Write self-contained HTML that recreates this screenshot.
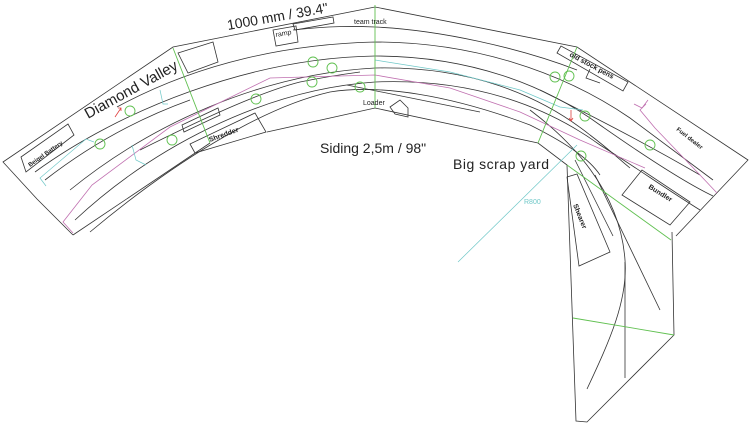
<!DOCTYPE html>
<html><head><meta charset="utf-8"><style>
html,body{margin:0;padding:0;background:#fff;width:750px;height:424px;overflow:hidden}
svg{display:block}
text{font-family:"Liberation Sans",sans-serif}
</style></head><body>
<svg width="750" height="424" viewBox="0 0 750 424" xmlns="http://www.w3.org/2000/svg">
<g fill="none" stroke="#333" stroke-width="0.8">
<polyline points="73,235 37,199 3,162 173,47 375,7 577,47 748,160 676,236"/>
<polyline points="73,235 210,143"/>
<polyline points="267,132 375,108 538,143 567,165 576,421 587,422 674,335 672,232"/>
<polygon points="178,53 213,42 218,62 188,73"/>
<polygon points="21,157 68,124 74,135 26,172"/>
<polygon points="273,30 296,26 298,42 276,46"/>
<polygon points="293,24 333,17 334,23 295,30"/>
<polygon points="190,144 255,113 266,132 195,153"/>
<polygon points="182,125 218,108 220,115 184,132"/>
<polygon points="390,107 400,100 408,108 408,117 395,114"/>
<polygon points="557,53 561,46 628,82 623,91"/>
<polyline points="590,69 586,78 600,83"/>
<polygon points="622,195 642,170 690,202 670,225"/>
<polygon points="567,177 577,174 610,252 579,266"/>
<path d="M117,107 C200,62 290,44 375,42 C470,42 560,70 630,118 C670,148 700,170 713,180"/>
<path d="M293,30 C330,26 352,26 375,27 C440,30 520,48 577,70"/>
<path d="M35,172 C120,110 250,58 375,56 C470,56 545,85 600,125 C650,160 690,185 713,196"/>
<path d="M70,190 C150,125 260,74 375,68 C470,66 540,95 590,135 C610,150 620,160 630,168"/>
<path d="M45,180 C90,145 140,118 190,100"/>
<path d="M75,220 C150,150 260,90 375,82 C470,78 545,105 600,145 C640,170 660,185 700,210"/>
<path d="M140,150 C200,120 260,92 300,82 C330,76 345,74 360,72"/>
<path d="M90,232 C170,165 260,108 330,92 C380,84 450,95 530,125 C570,145 590,160 600,175"/>
<path d="M347,85 L480,112"/>
<path d="M530,110 C570,140 620,190 625,260 C628,300 610,340 587,389"/>
<path d="M625,262 L625,378"/>
<path d="M595,175 L660,310"/>
<path d="M575,160 L613,236"/>
<path d="M540,90 C580,110 640,140 700,175"/>
</g>
<g fill="none" stroke="#c070b0" stroke-width="0.8">
<polyline points="73,233 63,222 92,185 170,127 270,78 375,75 450,88 520,112 580,140 645,168"/>
<polyline points="646,104 640,110 655,128 700,175 717,193"/>
<polyline points="634,104 642,108 648,100"/>
</g>
<g fill="none" stroke="#70c8c8" stroke-width="0.7">
<polyline points="46,186 40,178 86,139 94,142"/>
<polyline points="375,60 450,72 520,90 560,107 583,110"/>
<line x1="458" y1="262" x2="577" y2="145"/>
<polyline points="132,145 136,160 146,165"/>
<polyline points="160,90 163,104 168,104"/>
</g>
<g fill="none" stroke="#60c050" stroke-width="0.9">
<line x1="173" y1="48" x2="210" y2="143"/>
<line x1="375" y1="5" x2="375" y2="108"/>
<line x1="577" y1="47" x2="538" y2="143"/>
<line x1="567" y1="165" x2="671" y2="240"/>
<line x1="573" y1="318" x2="674" y2="335"/>
<circle cx="130" cy="111" r="5"/><circle cx="100" cy="144" r="5"/>
<circle cx="172" cy="140" r="5"/><circle cx="256" cy="99" r="5"/>
<circle cx="313" cy="62" r="5"/><circle cx="332" cy="68" r="5"/>
<circle cx="312" cy="82" r="5"/><circle cx="360" cy="87" r="5"/>
<circle cx="555" cy="77" r="5"/><circle cx="569" cy="76" r="5"/>
<circle cx="585" cy="116" r="5"/><circle cx="650" cy="145" r="5"/>
<circle cx="581" cy="156" r="5"/>
</g>
<g stroke="#e04040" stroke-width="0.8" fill="none">
<path d="M115,117 L121,108 M118,108 L121,108 L121,111"/>
<path d="M571,110 L571,120 M569,118 L571,121 L573,118"/>
</g>
<g fill="#222">
<text x="228" y="30" font-size="14" transform="rotate(-10 228 30)">1000 mm / 39.4"</text>
<text x="354" y="24" font-size="7">team track</text>
<text x="276" y="37" font-size="7" transform="rotate(-10 276 37)">ramp</text>
<text x="88" y="119" font-size="15" transform="rotate(-29 88 119)">Diamond Valley</text>
<text x="30" y="167" font-size="6" font-weight="bold" transform="rotate(-35 30 167)">Beigel Battery</text>
<text x="210" y="142" font-size="7" font-weight="bold" transform="rotate(-20 210 142)">Shredder</text>
<text x="363" y="105" font-size="7">Loader</text>
<text x="320" y="153" font-size="14">Siding 2,5m / 98"</text>
<text x="453" y="169" font-size="14" letter-spacing="0.5">Big scrap yard</text>
<text x="569" y="56" font-size="7" font-weight="bold" transform="rotate(28 569 56)">old stock pens</text>
<text x="676" y="130" font-size="6" font-weight="bold" transform="rotate(38 676 130)">Fuel dealer</text>
<text x="648" y="188" font-size="7" font-weight="bold" transform="rotate(32 648 188)">Bundler</text>
<text x="573" y="205" font-size="7" font-weight="bold" transform="rotate(68 573 205)">Shearer</text>
<text x="524" y="204" font-size="7" fill="#70c8c8">R800</text>
</g>
</svg>
</body></html>
